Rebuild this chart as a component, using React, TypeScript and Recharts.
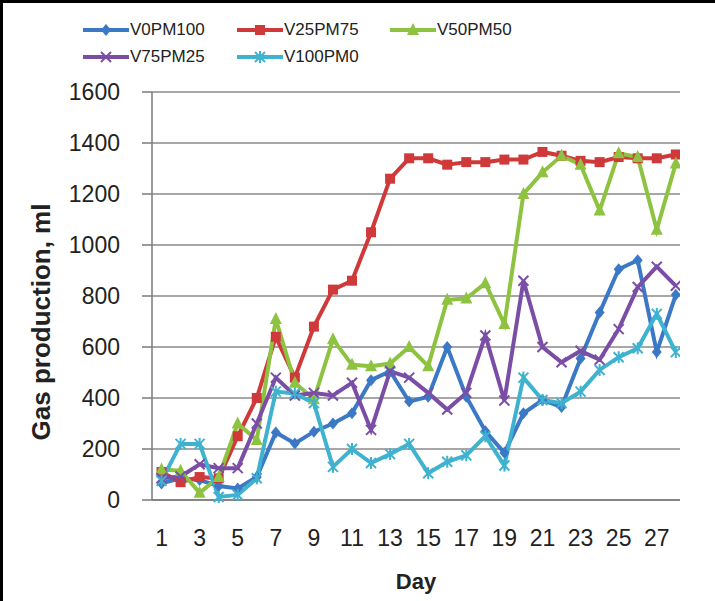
import { LineChart, Line, XAxis, YAxis, CartesianGrid } from 'recharts';

const days = [1, 2, 3, 4, 5, 6, 7, 8, 9, 10, 11, 12, 13, 14, 15, 16, 17, 18, 19, 20, 21, 22, 23, 24, 25, 26, 27, 28];

const v0pm100 = [65, 85, 78, 55, 45, 90, 265, 222, 268, 300, 340, 470, 505, 386, 405, 600, 405, 270, 185, 340, 392, 365, 555, 735, 905, 940, 580, 805];
const v25pm75 = [110, 70, 90, 85, 250, 400, 640, 480, 680, 825, 860, 1050, 1260, 1340, 1340, 1315, 1325, 1325, 1335, 1335, 1365, 1350, 1330, 1325, 1345, 1340, 1340, 1355];
const v50pm50 = [120, 115, 28, 90, 300, 235, 710, 460, 395, 630, 530, 525, 535, 600, 525, 785, 790, 850, 690, 1200, 1285, 1350, 1315, 1135, 1360, 1345, 1060, 1320];
const v75pm25 = [85, 92, 140, 125, 125, 300, 480, 410, 420, 410, 460, 275, 505, 480, 420, 355, 420, 645, 390, 860, 600, 540, 585, 550, 670, 835, 915, 840];
const v100pm0 = [75, 220, 220, 12, 20, 85, 425, 418, 380, 130, 200, 145, 180, 220, 105, 150, 175, 250, 135, 480, 392, 380, 425, 510, 560, 595, 730, 580];

const yTicks = [0, 200, 400, 600, 800, 1000, 1200, 1400, 1600];
const dayLabels = [1, 3, 5, 7, 9, 11, 13, 15, 17, 19, 21, 23, 25, 27];
const dayBounds = [0.5, 1.5, 2.5, 3.5, 4.5, 5.5, 6.5, 7.5, 8.5, 9.5, 10.5, 11.5, 12.5, 13.5, 14.5, 15.5, 16.5, 17.5, 18.5, 19.5, 20.5, 21.5, 22.5, 23.5, 24.5, 25.5, 26.5, 27.5];

const COLORS = {
    V0PM100: '#3b78c6',
    V25PM75: '#d0393a',
    V50PM50: '#8dc340',
    V75PM25: '#7b4ea6',
    V100PM0: '#3fb2cf',
};

const FONT = '"Liberation Sans", Arial, sans-serif';

const data = days.map((day, i) => ({
    day,
    V0PM100: v0pm100[i],
    V25PM75: v25pm75[i],
    V50PM50: v50pm50[i],
    V75PM25: v75pm25[i],
    V100PM0: v100pm0[i],
}));

// marker shapes, Excel style
function Marker({ kind, cx, cy, color }: { kind: string; cx: number; cy: number; color: string }) {
    if (cx == null || cy == null) return null;
    const s = 5;
    if (kind === 'diamond') {
        return <polygon points={`${cx},${cy - s - 1} ${cx + s},${cy} ${cx},${cy + s + 1} ${cx - s},${cy}`} fill={color} />;
    }
    if (kind === 'square') {
        return <rect x={cx - s} y={cy - s} width={s * 2} height={s * 2} fill={color} />;
    }
    if (kind === 'triangle') {
        return <polygon points={`${cx},${cy - s - 2} ${cx + s + 1},${cy + s} ${cx - s - 1},${cy + s}`} fill={color} />;
    }
    if (kind === 'x') {
        return (
            <g stroke={color} strokeWidth={2}>
                <line x1={cx - s} y1={cy - s} x2={cx + s} y2={cy + s} />
                <line x1={cx - s} y1={cy + s} x2={cx + s} y2={cy - s} />
            </g>
        );
    }
    return (
        <g stroke={color} strokeWidth={2}>
            <line x1={cx - s} y1={cy - s} x2={cx + s} y2={cy + s} />
            <line x1={cx - s} y1={cy + s} x2={cx + s} y2={cy - s} />
            <line x1={cx} y1={cy - s - 1} x2={cx} y2={cy + s + 1} />
        </g>
    );
}

const SERIES = [
    { key: 'V0PM100', kind: 'diamond' },
    { key: 'V25PM75', kind: 'square' },
    { key: 'V50PM50', kind: 'triangle' },
    { key: 'V75PM25', kind: 'x' },
    { key: 'V100PM0', kind: 'asterisk' },
];

function LegendItem({ name, kind, left, top }: { name: string; kind: string; left: number; top: number }) {
    const color = (COLORS as any)[name];
    return (
        <div style={{ position: 'absolute', left, top, display: 'flex', alignItems: 'center', height: 16 }}>
            <svg width={46} height={16}>
                <line x1={0} y1={8} x2={46} y2={8} stroke={color} strokeWidth={4} />
                <Marker kind={kind} cx={23} cy={8} color={color} />
            </svg>
            <span style={{ fontFamily: '"Liberation Sans Narrow", "Arial Narrow", Arial, sans-serif', fontSize: 17, color: '#222', marginLeft: 1 }}>
                {name}
            </span>
        </div>
    );
}

export default function App() {
    return (
        <div
            style={{
                position: 'absolute',
                left: 0,
                top: 0,
                width: 715,
                height: 601,
                background: '#fff',
                overflow: 'hidden',
                boxSizing: 'border-box',
                borderTop: '3px solid #000',
                borderLeft: '3px solid #000',
            }}
        >
            <div style={{ position: 'absolute', left: -3, top: -3 }}>
                <LineChart width={715} height={601} data={data} margin={{ top: 92, right: 35, bottom: 0, left: 0 }}>
                    <CartesianGrid vertical={false} stroke="#8a8a8a" strokeWidth={1.5} />
                    <XAxis
                        xAxisId={0}
                        dataKey="day"
                        type="number"
                        domain={[0.5, 28.22]}
                        allowDataOverflow
                        ticks={dayBounds}
                        tick={false}
                        tickSize={8}
                        height={8}
                        axisLine={{ stroke: '#7a7a7a', strokeWidth: 1.5 }}
                        tickLine={{ stroke: '#7a7a7a', strokeWidth: 1.2 }}
                    />
                    <XAxis
                        xAxisId="lbl"
                        dataKey="day"
                        type="number"
                        domain={[0.5, 28.22]}
                        allowDataOverflow
                        ticks={dayLabels}
                        interval={0}
                        tickLine={false}
                        axisLine={false}
                        tickSize={0}
                        tickMargin={22}
                        height={93}
                        tick={{ fontSize: 23, fill: '#222', fontFamily: FONT }}
                        label={{
                            value: 'Day',
                            position: 'insideBottom',
                            offset: 12,
                            style: { fontSize: 22, fontWeight: 'bold', fill: '#222', fontFamily: FONT },
                        }}
                    />
                    <YAxis
                        width={152}
                        domain={[0, 1600]}
                        ticks={yTicks}
                        interval={0}
                        tickSize={10}
                        tickMargin={22}
                        axisLine={{ stroke: '#7a7a7a', strokeWidth: 1.5 }}
                        tickLine={{ stroke: '#7a7a7a', strokeWidth: 1.5 }}
                        tick={{ fontSize: 23, fill: '#222', fontFamily: FONT }}
                    />
                    {SERIES.map((s) => {
                        const color = (COLORS as any)[s.key];
                        return (
                            <Line
                                key={s.key}
                                xAxisId={0}
                                dataKey={s.key}
                                stroke={color}
                                strokeWidth={4}
                                isAnimationActive={false}
                                dot={(p: any) => <Marker key={`${s.key}-${p.index}`} kind={s.kind} cx={p.cx} cy={p.cy} color={color} />}
                                activeDot={false}
                            />
                        );
                    })}
                </LineChart>
            </div>

            <LegendItem name="V0PM100" kind="diamond" left={80} top={19} />
            <LegendItem name="V25PM75" kind="square" left={234} top={19} />
            <LegendItem name="V50PM50" kind="triangle" left={387} top={19} />
            <LegendItem name="V75PM25" kind="x" left={80} top={46} />
            <LegendItem name="V100PM0" kind="asterisk" left={234} top={46} />

            <div
                style={{
                    position: 'absolute',
                    left: 38,
                    top: 319,
                    transform: 'translate(-50%, -50%) rotate(-90deg)',
                    whiteSpace: 'nowrap',
                    fontFamily: FONT,
                    fontWeight: 'bold',
                    fontSize: 26,
                    color: '#222',
                }}
            >
                Gas production, ml
            </div>
        </div>
    );
}
